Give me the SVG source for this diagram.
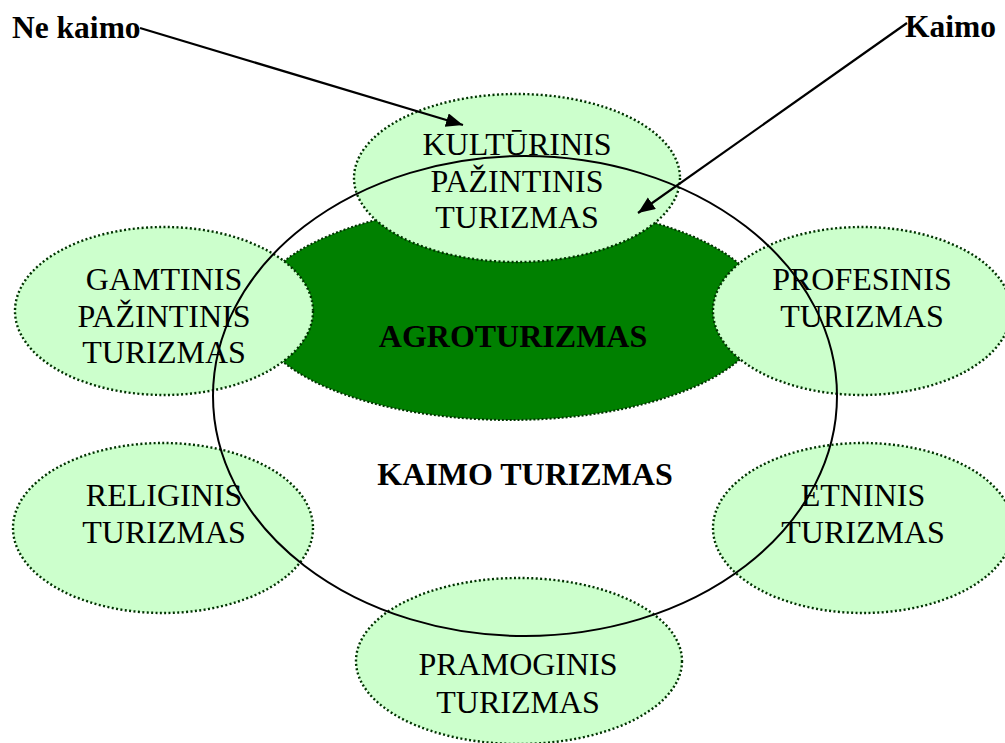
<svg xmlns="http://www.w3.org/2000/svg" width="1005" height="743" viewBox="0 0 1005 743">
<style>
.lite{fill:#ccffcc;stroke:#003300;stroke-width:2.4;stroke-dasharray:2 2.4}
.agro{fill:#008000;stroke:#003300;stroke-width:2;stroke-dasharray:2 2}
.t{font-family:"Liberation Serif","Times New Roman",serif;font-size:32px;fill:#000;text-anchor:middle}
.b{font-family:"Liberation Serif","Times New Roman",serif;font-size:32px;font-weight:bold;fill:#000}
.conn{stroke:#000;stroke-width:2.2;fill:none}
</style>
<defs>
<marker id="arr" markerUnits="userSpaceOnUse" markerWidth="20" markerHeight="16" refX="17" refY="7" orient="auto">
<path d="M0,0 L17,7 L0,14 z" fill="#000"/>
</marker>
</defs>
<rect width="1005" height="743" fill="#fff"/>
<g id="agroturizmas">
<ellipse class="agro" cx="510" cy="312" rx="256" ry="108"/>
</g>
<g id="kulturinis">
<ellipse class="lite" cx="517" cy="178" rx="163" ry="84"/>
</g>
<g id="gamtinis">
<ellipse class="lite" cx="164" cy="311" rx="149" ry="84"/>
</g>
<g id="profesinis">
<ellipse class="lite" cx="862" cy="311" rx="149" ry="84"/>
</g>
<g id="religinis">
<ellipse class="lite" cx="163" cy="528" rx="150" ry="85"/>
</g>
<g id="etninis">
<ellipse class="lite" cx="863" cy="528" rx="150" ry="85"/>
</g>
<g id="pramoginis">
<ellipse class="lite" cx="519" cy="661" rx="163" ry="83"/>
</g>
<g id="kaimo-turizmas">
<ellipse cx="525" cy="396" rx="312" ry="240" fill="none" stroke="#000" stroke-width="2"/>
<text class="b" x="525" y="485" text-anchor="middle">KAIMO TURIZMAS</text>
</g>
<g id="labels">
<text class="b" x="513" y="347" text-anchor="middle">AGROTURIZMAS</text>
<text class="t" x="517" y="155">KULTŪRINIS</text>
<text class="t" x="517" y="192">PAŽINTINIS</text>
<text class="t" x="517" y="228">TURIZMAS</text>
<text class="t" x="164" y="290">GAMTINIS</text>
<text class="t" x="164" y="327">PAŽINTINIS</text>
<text class="t" x="164" y="363">TURIZMAS</text>
<text class="t" x="862" y="290">PROFESINIS</text>
<text class="t" x="862" y="327">TURIZMAS</text>
<text class="t" x="164" y="506">RELIGINIS</text>
<text class="t" x="164" y="543">TURIZMAS</text>
<text class="t" x="863" y="506">ETNINIS</text>
<text class="t" x="863" y="543">TURIZMAS</text>
<text class="t" x="518" y="675">PRAMOGINIS</text>
<text class="t" x="518" y="713">TURIZMAS</text>
</g>
<g id="ne-kaimo">
<text class="b" x="12" y="38" style="font-size:31.5px">Ne kaimo</text>
</g>
<g id="kaimo">
<text class="b" x="905" y="37" style="font-size:31.5px">Kaimo</text>
</g>
<g id="connectors">
<line class="conn" x1="140" y1="28" x2="463" y2="125" marker-end="url(#arr)"/>
<line class="conn" x1="907" y1="23" x2="638" y2="213" marker-end="url(#arr)"/>
</g>
</svg>
